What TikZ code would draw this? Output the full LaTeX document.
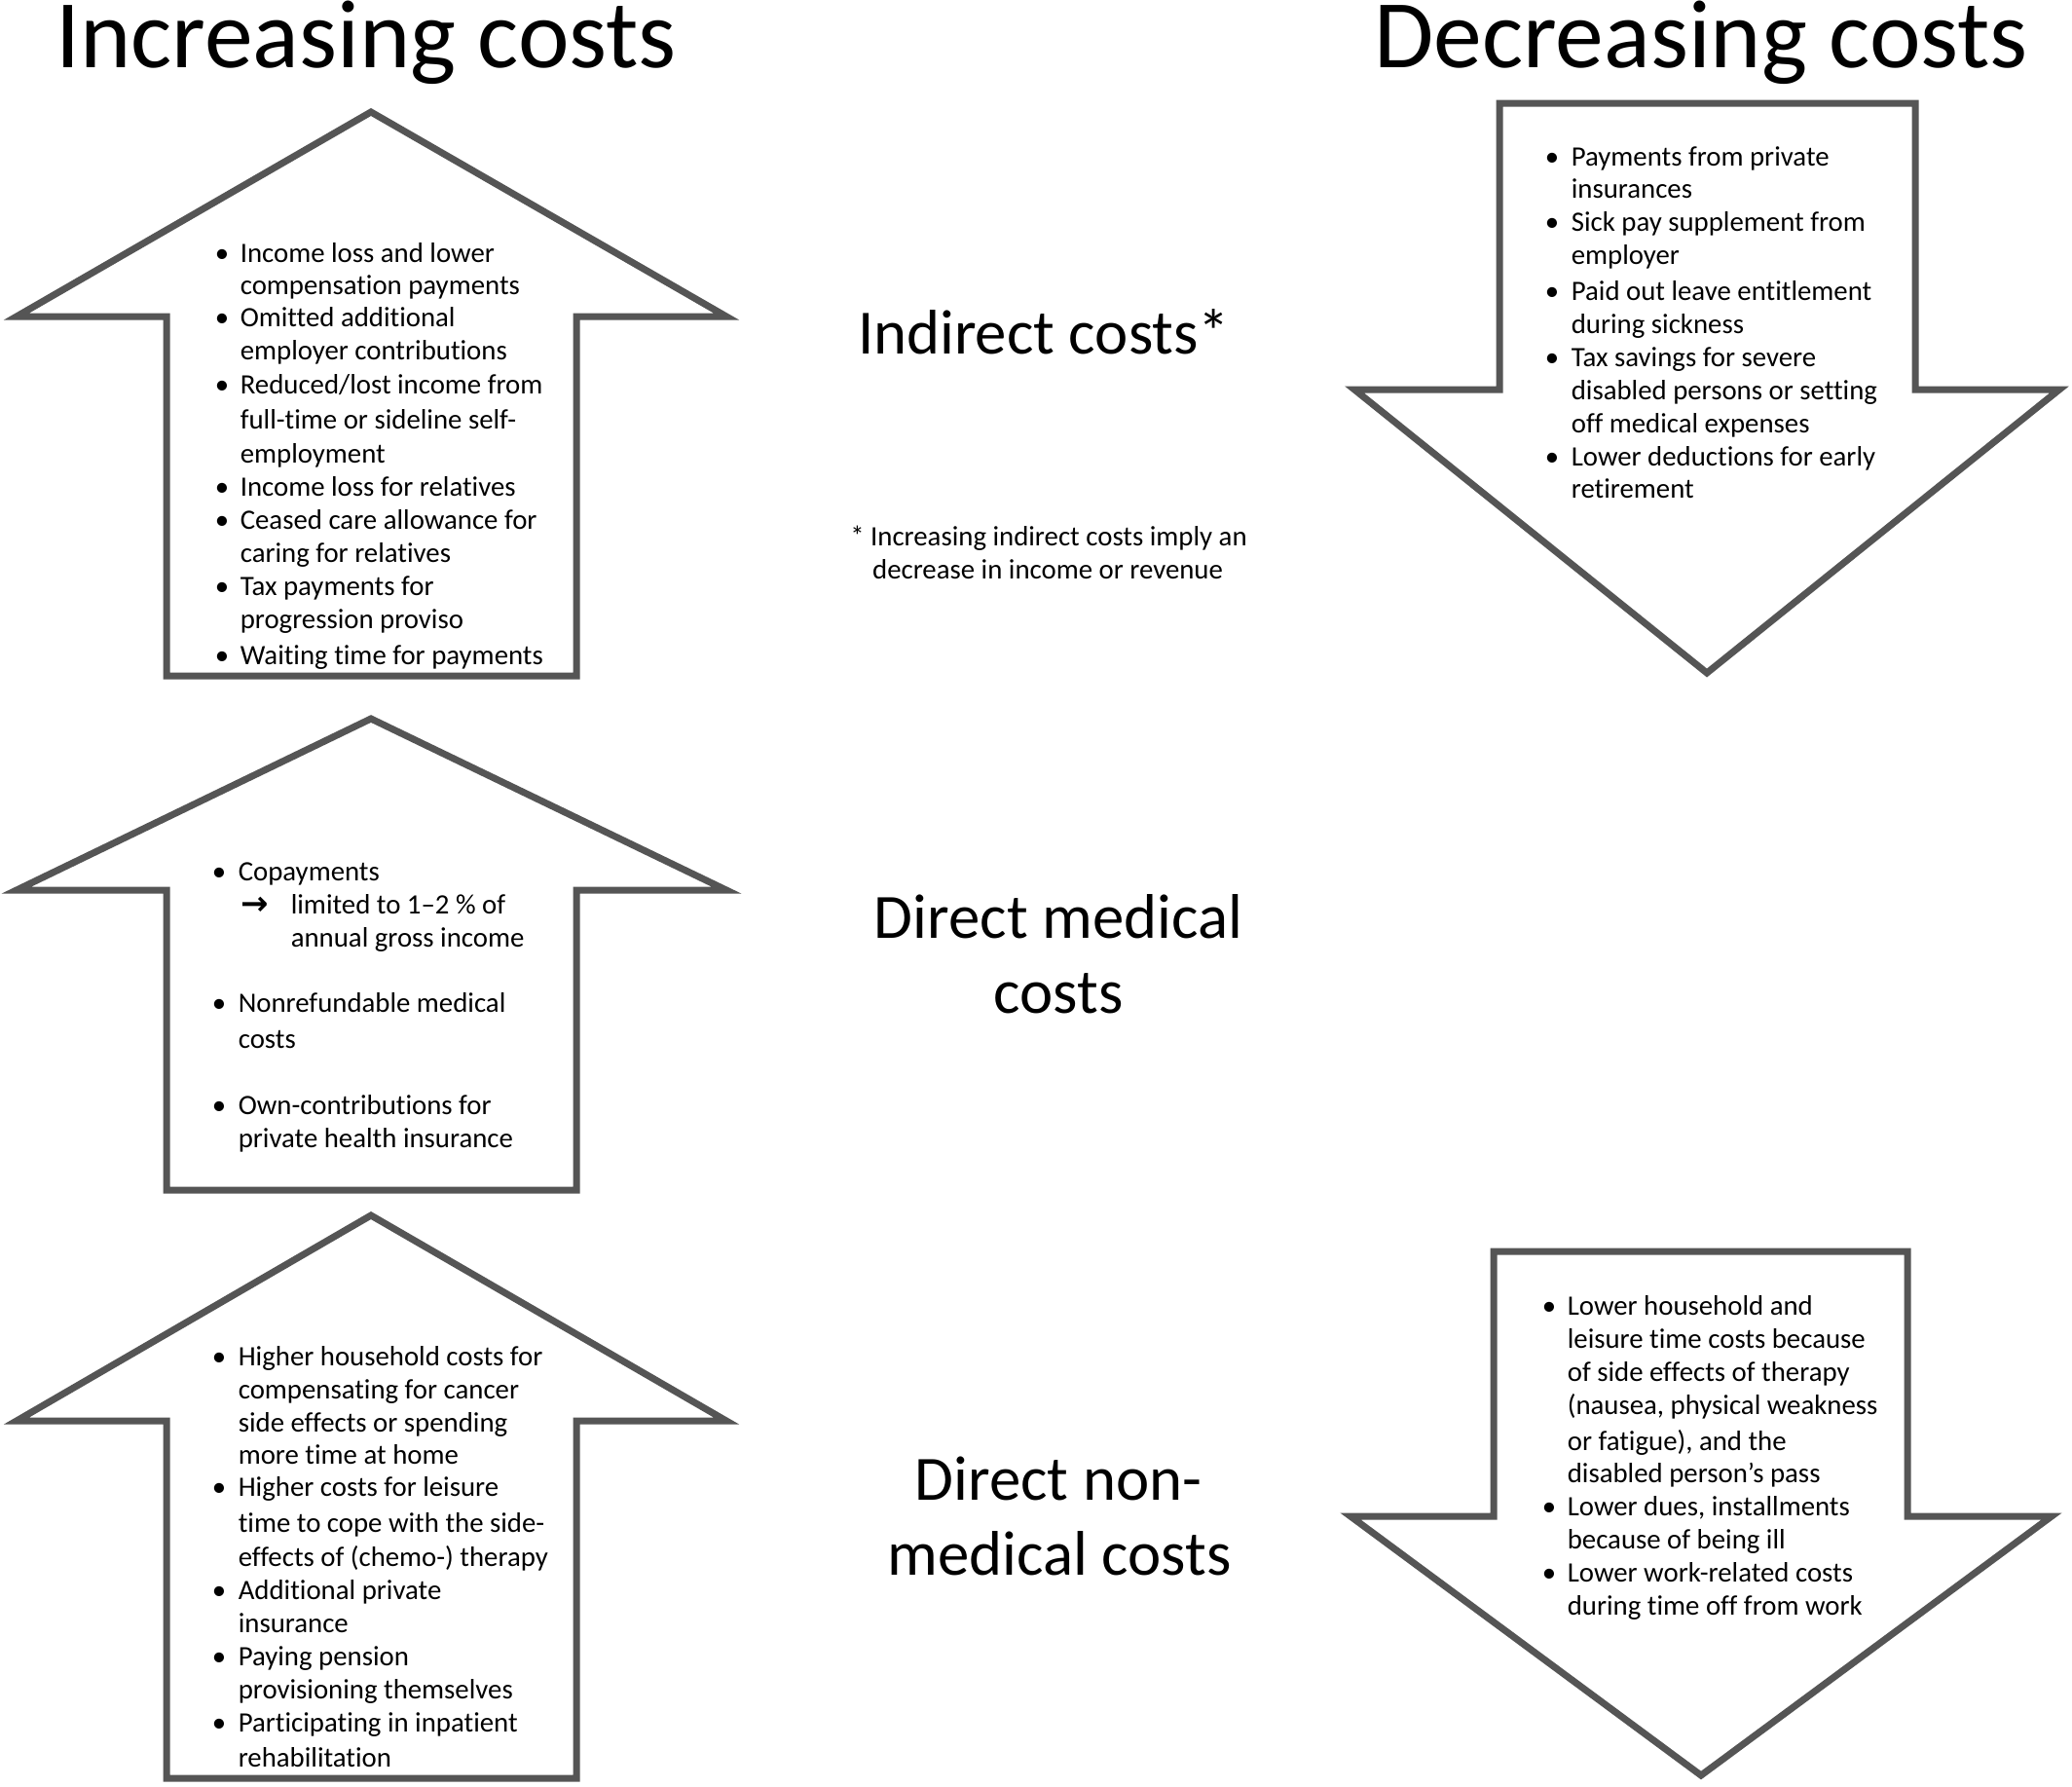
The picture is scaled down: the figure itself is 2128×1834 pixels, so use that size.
\documentclass[tikz,border=0pt]{standalone}
\usepackage{fontspec}
\setmainfont{Carlito}[Ligatures={NoCommon}]
\newfontfamily\djv{DejaVu Sans}
\definecolor{arr}{RGB}{85,85,85}
\begin{document}
\begin{tikzpicture}[x=0.25pt,y=-0.25pt,
  outl/.style={draw=arr,line width=1.75pt,fill=white,line join=miter,miter limit=10},
  txt/.style={anchor=base west,inner sep=0pt,font=\fontsize{7.2}{8.5}\selectfont},
  bul/.style={anchor=base,inner sep=0pt,font=\fontsize{7.2}{8.5}\selectfont},
  ttl/.style={anchor=base,inner sep=0pt,font=\fontsize{24.9}{30}\selectfont},
  lbl/.style={anchor=base,inner sep=0pt,font=\fontsize{16.2}{19}\selectfont},
  fnt/.style={anchor=base,inner sep=0pt,font=\fontsize{7.2}{8.5}\selectfont}]
\useasboundingbox (0,0) rectangle (2128,1834);

% arrows
\draw[outl] (381,115) -- (746,325) -- (592,325) -- (592,694) -- (171,694) -- (171,325) -- (17,325) -- cycle;
\draw[outl] (1540,106) -- (1967,106) -- (1967,400) -- (2115,400) -- (1753,691) -- (1391,400) -- (1540,400) -- cycle;
\draw[outl] (381,738) -- (746,914) -- (592,914) -- (592,1222) -- (171,1222) -- (171,914) -- (17,914) -- cycle;
\draw[outl] (381,1248) -- (746,1459) -- (592,1459) -- (592,1826) -- (171,1826) -- (171,1459) -- (17,1459) -- cycle;
\draw[outl] (1534,1285) -- (1959,1285) -- (1959,1557) -- (2107,1557) -- (1747,1823) -- (1387,1557) -- (1534,1557) -- cycle;

% titles
\node[ttl] (tinc) at (376,69) {Increasing costs};
\node[ttl] (tdec) at (1747,69) {Decreasing costs};
\node[lbl] (lind) at (1072,363) {Indirect costs*};
\node[lbl] (lmed1) at (1087,963) {Direct medical};
\node[lbl] (lmed2) at (1087,1040) {costs};
\node[lbl] (lnon1) at (1087,1540) {Direct non-};
\node[lbl] (lnon2) at (1088,1617) {medical costs};
\node[fnt] (fn1) at (1077,560) {* Increasing indirect costs imply an};
\node[fnt] (fn2) at (1076,594) {decrease in income or revenue};

% block A
\foreach \y/\t [count=\i] in {269/{Income loss and lower},302/{compensation payments},335/{Omitted additional},369/{employer contributions},404/{Reduced/lost income from},440/{full-time or sideline self-},475/{employment},509/{Income loss for relatives},543/{Ceased care allowance for},577/{caring for relatives},611/{Tax payments for},645/{progression proviso},682/{Waiting time for payments}}
  {\node[txt] (A\i) at (246,\y) {\t};}
\foreach \y [count=\i] in {269,335,404,509,543,611,682}
  {\node[bul] (Ab\i) at (228,\y) {•};}

% block B
\foreach \y/\t [count=\i] in {170/{Payments from private},203/{insurances},237/{Sick pay supplement from},271/{employer},308/{Paid out leave entitlement},342/{during sickness},376/{Tax savings for severe},410/{disabled persons or setting},444/{off medical expenses},478/{Lower deductions for early},511/{retirement}}
  {\node[txt] (B\i) at (1613,\y) {\t};}
\foreach \y [count=\i] in {170,237,308,376,478}
  {\node[bul] (Bb\i) at (1594,\y) {•};}

% block C
\node[txt] (C1) at (244,904) {Copayments};
\node[bul,font=\djv\bfseries\fontsize{8.5}{8.5}\selectfont] (Carr) at (262,939) {→};
\node[txt] (C2) at (298,938) {limited to 1–2 \% of};
\node[txt] (C3) at (298,972) {annual gross income};
\node[txt] (C4) at (244,1039) {Nonrefundable medical};
\node[txt] (C5) at (244,1076) {costs};
\node[txt] (C6) at (244,1144) {Own-contributions for};
\node[txt] (C7) at (244,1178) {private health insurance};
\foreach \y [count=\i] in {904,1039,1144}
  {\node[bul] (Cb\i) at (225,\y) {•};}

% block D
\foreach \y/\t [count=\i] in {1402/{Higher household costs for},1436/{compensating for cancer},1470/{side effects or spending},1503/{more time at home},1536/{Higher costs for leisure},1573/{time to cope with the side-},1608/{effects of (chemo-) therapy},1642/{Additional private},1676/{insurance},1710/{Paying pension},1744/{provisioning themselves},1778/{Participating in inpatient},1814/{rehabilitation}}
  {\node[txt] (D\i) at (244,\y) {\t};}
\foreach \y [count=\i] in {1402,1536,1642,1710,1778}
  {\node[bul] (Db\i) at (225,\y) {•};}

% block E
\foreach \y/\t [count=\i] in {1350/{Lower household and},1384/{leisure time costs because},1418/{of side effects of therapy},1452/{(nausea, physical weakness},1489/{or fatigue), and the},1522/{disabled person’s pass},1556/{Lower dues, installments},1590/{because of being ill},1624/{Lower work-related costs},1658/{during time off from work}}
  {\node[txt] (E\i) at (1609,\y) {\t};}
\foreach \y [count=\i] in {1350,1556,1624}
  {\node[bul] (Eb\i) at (1591,\y) {•};}
\end{tikzpicture}
\end{document}
